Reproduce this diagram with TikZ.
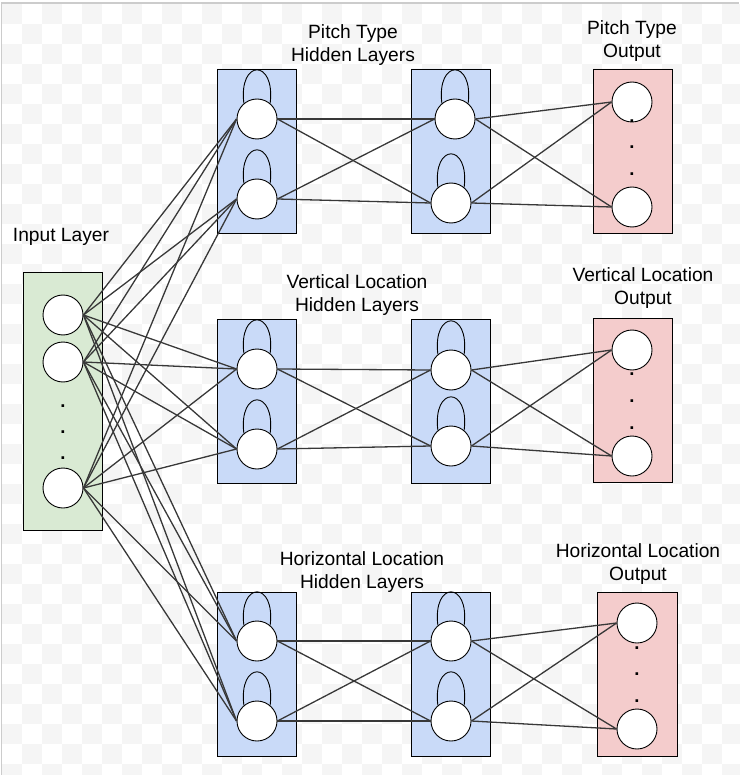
\documentclass[tikz,border=0pt]{standalone}
\usepackage{fontspec}
\setmainfont{Liberation Sans}
\usetikzlibrary{calc}

\definecolor{boxgreen}{HTML}{D9EAD3}
\definecolor{boxblue}{HTML}{C9DAF8}
\definecolor{boxred}{HTML}{F4CCCC}
\definecolor{checker}{HTML}{F5F5F5}

\tikzset{
  neuron/.style={circle, draw=black, fill=white, minimum size=40pt, inner sep=0pt, line width=0.9pt},
  layerbox/.style={draw=black, line width=0.9pt},
  wire/.style={draw=black!78, line width=1.3pt},
  selfloop/.style={draw=black, line width=0.9pt},
  title/.style={align=center, font=\fontsize{19.2}{22.5}\selectfont},
  ellip/.style={font=\fontsize{18.5}{22.5}\selectfont\bfseries, inner sep=0pt},
}

\begin{document}
\begin{tikzpicture}[x=1pt, y=-1pt]
    \useasboundingbox (0,0) rectangle (739,775);
    % background
    \foreach \i in {0,2,...,36}
        \foreach \j in {0,2,...,38} {
            \fill [checker] (2+20*\i,4+20*\j) rectangle +(20,20);
            \fill [checker] (22+20*\i,24+20*\j) rectangle +(20,20);
        }
    \draw [black!20, line width=1.5pt] (1.5,775) -- (1.5,3) -- (739,3);

    % boxes
    \draw [layerbox, fill=boxgreen] (23,272) rectangle (102,530);  % input
    \draw [layerbox, fill=boxblue] (217,69) rectangle (296,233)    % pitch
                                   (411,69) rectangle (490,233)
                                   (217,319) rectangle (296,483)   % vertical
                                   (411,319) rectangle (490,483)
                                   (217,592) rectangle (296,756)   % horizontal
                                   (411,592) rectangle (490,756);
    \draw [layerbox, fill=boxred] (593,69) rectangle (672,233)
                                  (593,318) rectangle (672,482)
                                  (597,592) rectangle (677,756);

    % titles
    \node [title] (tin) at (61,237) {Input Layer};
    \node [title] (tpa) at (353,45) {Pitch Type\\Hidden Layers};
    \node [title] (tpo) at (632,41) {Pitch Type\\Output};
    \node [title] (tva) at (357,295) {Vertical Location\\Hidden Layers};
    \node [title] (tvo) at (643,288) {Vertical Location\\Output};
    \node [title] (tha) at (362,572) {Horizontal Location\\Hidden Layers};
    \node [title] (tho) at (638,564) {Horizontal Location\\Output};

    % neurons
    \node [neuron] (in1) at (63,315) {};
    \node [neuron] (in2) at (63,362) {};
    \node [neuron] (in3) at (63,488) {};
    \node [neuron] (pa1) at (257,119) {};
    \node [neuron] (pa2) at (257,199) {};
    \node [neuron] (pb1) at (455,119) {};
    \node [neuron] (pb2) at (451,203) {};
    \node [neuron] (po1) at (632,102) {};
    \node [neuron] (po2) at (632,207) {};
    \node [neuron] (va1) at (257,369) {};
    \node [neuron] (va2) at (257,449) {};
    \node [neuron] (vb1) at (451,370) {};
    \node [neuron] (vb2) at (451,446) {};
    \node [neuron] (vo1) at (632,350) {};
    \node [neuron] (vo2) at (632,456) {};
    \node [neuron] (ha1) at (257,641) {};
    \node [neuron] (ha2) at (257,721) {};
    \node [neuron] (hb1) at (451,641) {};
    \node [neuron] (hb2) at (451,721) {};
    \node [neuron] (ho1) at (637,623) {};
    \node [neuron] (ho2) at (637,729) {};

    % dots
    \foreach \y [count=\n] in {406,432,458}
        \node [ellip] (din\n) at (63,\y) {.};
    \foreach \y [count=\n] in {121,147,174}
        \node [ellip] (dpo\n) at (632,\y) {.};
    \foreach \y [count=\n] in {374,401,428}
        \node [ellip] (dvo\n) at (632,\y) {.};
    \foreach \y [count=\n] in {648,674,701}
        \node [ellip] (dho\n) at (637,\y) {.};

    % self loops (y axis points down, so the handles point to 265/275)
    \foreach \n in {pa1,pa2,pb1,pb2,va1,va2,vb1,vb2,ha1,ha2,hb1,hb2}
        \draw [selfloop] (\n.130) .. controls +(263:45) and +(277:45) .. (\n.50);

    % input -> first hidden layers
    \foreach \i in {1,2,3}
        \foreach \row in {p,v,h}
            \foreach \k in {1,2}
                \draw [wire] (in\i.east) -- (\row a\k.west);
    % hidden -> hidden -> output
    \foreach \row in {p,v,h}
        \foreach \j in {1,2}
            \foreach \k in {1,2} {
                \draw [wire] (\row a\j.east) -- (\row b\k.west);
                \draw [wire] (\row b\j.east) -- (\row o\k.west);
            }
\end{tikzpicture}
\end{document}
